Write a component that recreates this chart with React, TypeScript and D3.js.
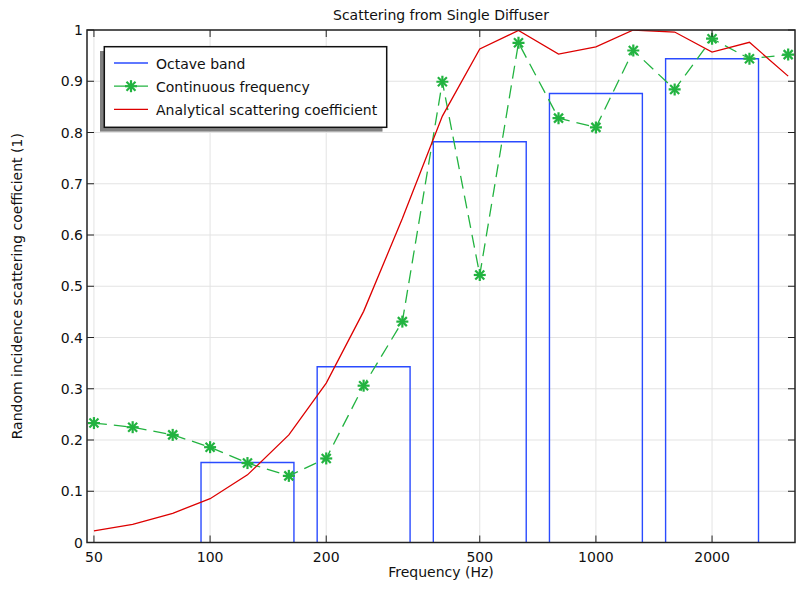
import React from "react";
import * as d3 from "d3";

const thirdOctaveFreqs = [50, 63, 80, 100, 125, 160, 200, 250, 315, 400, 500, 630, 800, 1000, 1250, 1600, 2000, 2500, 3150];
const continuousValues = [0.233, 0.225, 0.21, 0.186, 0.155, 0.13, 0.164, 0.306, 0.431, 0.899, 0.522, 0.975, 0.828, 0.81, 0.96, 0.884, 0.983, 0.944, 0.952];
const analyticalValues = [0.0225, 0.0355, 0.057, 0.0855, 0.132, 0.21, 0.311, 0.451, 0.632, 0.832, 0.963, 0.999, 0.953, 0.967, 1.0, 0.996, 0.957, 0.976, 0.91];
const octaveCenters = [125, 250, 500, 1000, 2000];
const octaveValues = [0.156, 0.343, 0.782, 0.876, 0.944];
const xTicks = [50, 100, 200, 500, 1000, 2000];
const yTicks = [0, 0.1, 0.2, 0.3, 0.4, 0.5, 0.6, 0.7, 0.8, 0.9, 1];
const legendLabels = ["Octave band", "Continuous frequency", "Analytical scattering coefficient"];

const W = 799, H = 589;
const L = 87, R = 795, T = 30, B = 542.5;
const FONT = "DejaVu Sans, sans-serif";
const BLUE = "#2a4bff";
const GREEN = "#22b340";
const RED = "#dd0000";
const BAR_HALF_OCT = 0.4;

function Star({ x, y }: { x: number; y: number }) {
  const a = 6, d = 4.5;
  return (
    <g stroke={GREEN} strokeWidth={2.2}>
      <line x1={x - a} y1={y} x2={x + a} y2={y} />
      <line x1={x} y1={y - a} x2={x} y2={y + a} />
      <line x1={x - d} y1={y - d} x2={x + d} y2={y + d} />
      <line x1={x - d} y1={y + d} x2={x + d} y2={y - d} />
    </g>
  );
}

export default function App() {
  const x = d3.scaleLog().domain([47.97, 3281]).range([L, R]);
  const y = d3.scaleLinear().domain([0, 1]).range([B, T]);
  const line = d3.line<[number, number]>().x(d => x(d[0])).y(d => y(d[1]));
  const contPts = thirdOctaveFreqs.map((f, i) => [f, continuousValues[i]] as [number, number]);
  const anaPts = thirdOctaveFreqs.map((f, i) => [f, analyticalValues[i]] as [number, number]);
  const fac = Math.pow(2, BAR_HALF_OCT);
  const tickLen = 7;

  return (
    <svg width={W} height={H} style={{ position: "absolute", left: 0, top: 0, background: "#fff" }} fontFamily={FONT}>
      <defs>
        <clipPath id="plot"><rect x={L} y={T} width={R - L} height={B - T} /></clipPath>
      </defs>
      <rect x={0} y={0} width={W} height={H} fill="#fff" />
      <g stroke="#e3e3e3" strokeWidth={1}>
        {xTicks.map(t => <line key={"gx" + t} x1={x(t)} x2={x(t)} y1={T} y2={B} />)}
        {yTicks.map(t => <line key={"gy" + t} x1={L} x2={R} y1={y(t)} y2={y(t)} />)}
      </g>
      <g clipPath="url(#plot)">
        {octaveCenters.map((c, i) => {
          const x0 = x(c / fac), x1 = x(c * fac), yt = y(octaveValues[i]);
          return <path key={"bar" + c} d={`M${x0},${B}V${yt}H${x1}V${B}`} fill="none" stroke={BLUE} strokeWidth={1.4} />;
        })}
        <path d={line(contPts) || ""} fill="none" stroke={GREEN} strokeWidth={1.3} strokeDasharray="13,7" />
        {contPts.map(p => <Star key={"m" + p[0]} x={x(p[0])} y={y(p[1])} />)}
        <path d={line(anaPts) || ""} fill="none" stroke={RED} strokeWidth={1.3} />
      </g>
      <g stroke="#222" strokeWidth={1}>
        {xTicks.map(t => <line key={"tb" + t} x1={x(t)} x2={x(t)} y1={B} y2={B - tickLen} />)}
        {xTicks.map(t => <line key={"tt" + t} x1={x(t)} x2={x(t)} y1={T} y2={T + tickLen} />)}
        {yTicks.map(t => <line key={"tl" + t} x1={L} x2={L + tickLen} y1={y(t)} y2={y(t)} />)}
        {yTicks.map(t => <line key={"tr" + t} x1={R} x2={R - tickLen} y1={y(t)} y2={y(t)} />)}
      </g>
      <rect x={L} y={T} width={R - L} height={B - T} fill="none" stroke="#222" strokeWidth={1.5} />
      <g fontSize={14} fill="#111">
        {xTicks.map(t => <text key={"xl" + t} x={x(t)} y={562} textAnchor="middle">{String(t)}</text>)}
        {yTicks.map(t => <text key={"yl" + t} x={L - 4} y={y(t) + 5} textAnchor="end">{String(t)}</text>)}
      </g>
      <text x={(L + R) / 2} y={19.5} textAnchor="middle" fontSize={14} fill="#111">Scattering from Single Diffuser</text>
      <text x={(L + R) / 2} y={577} textAnchor="middle" fontSize={14} fill="#111">Frequency (Hz)</text>
      <text transform={`translate(22,${(T + B) / 2}) rotate(-90)`} textAnchor="middle" fontSize={14} fill="#111">Random incidence scattering coefficient (1)</text>
      <rect x={100} y={51} width={282.5} height={80.6} fill="#808080" />
      <rect x={104.3} y={46.7} width={282.4} height={80.6} fill="#fff" stroke="#111" strokeWidth={1.5} />
      {legendLabels.map((lab, i) => {
        const ly = 63 + i * 23.2;
        const col = [BLUE, GREEN, RED][i];
        return (
          <g key={"lg" + i}>
            <line x1={114} x2={148} y1={ly} y2={ly} stroke={col} strokeWidth={1.3} />
            {i === 1 && <Star x={131} y={ly} />}
            <text x={156} y={ly + 5.5} fontSize={14} fill="#111">{lab}</text>
          </g>
        );
      })}
    </svg>
  );
}
